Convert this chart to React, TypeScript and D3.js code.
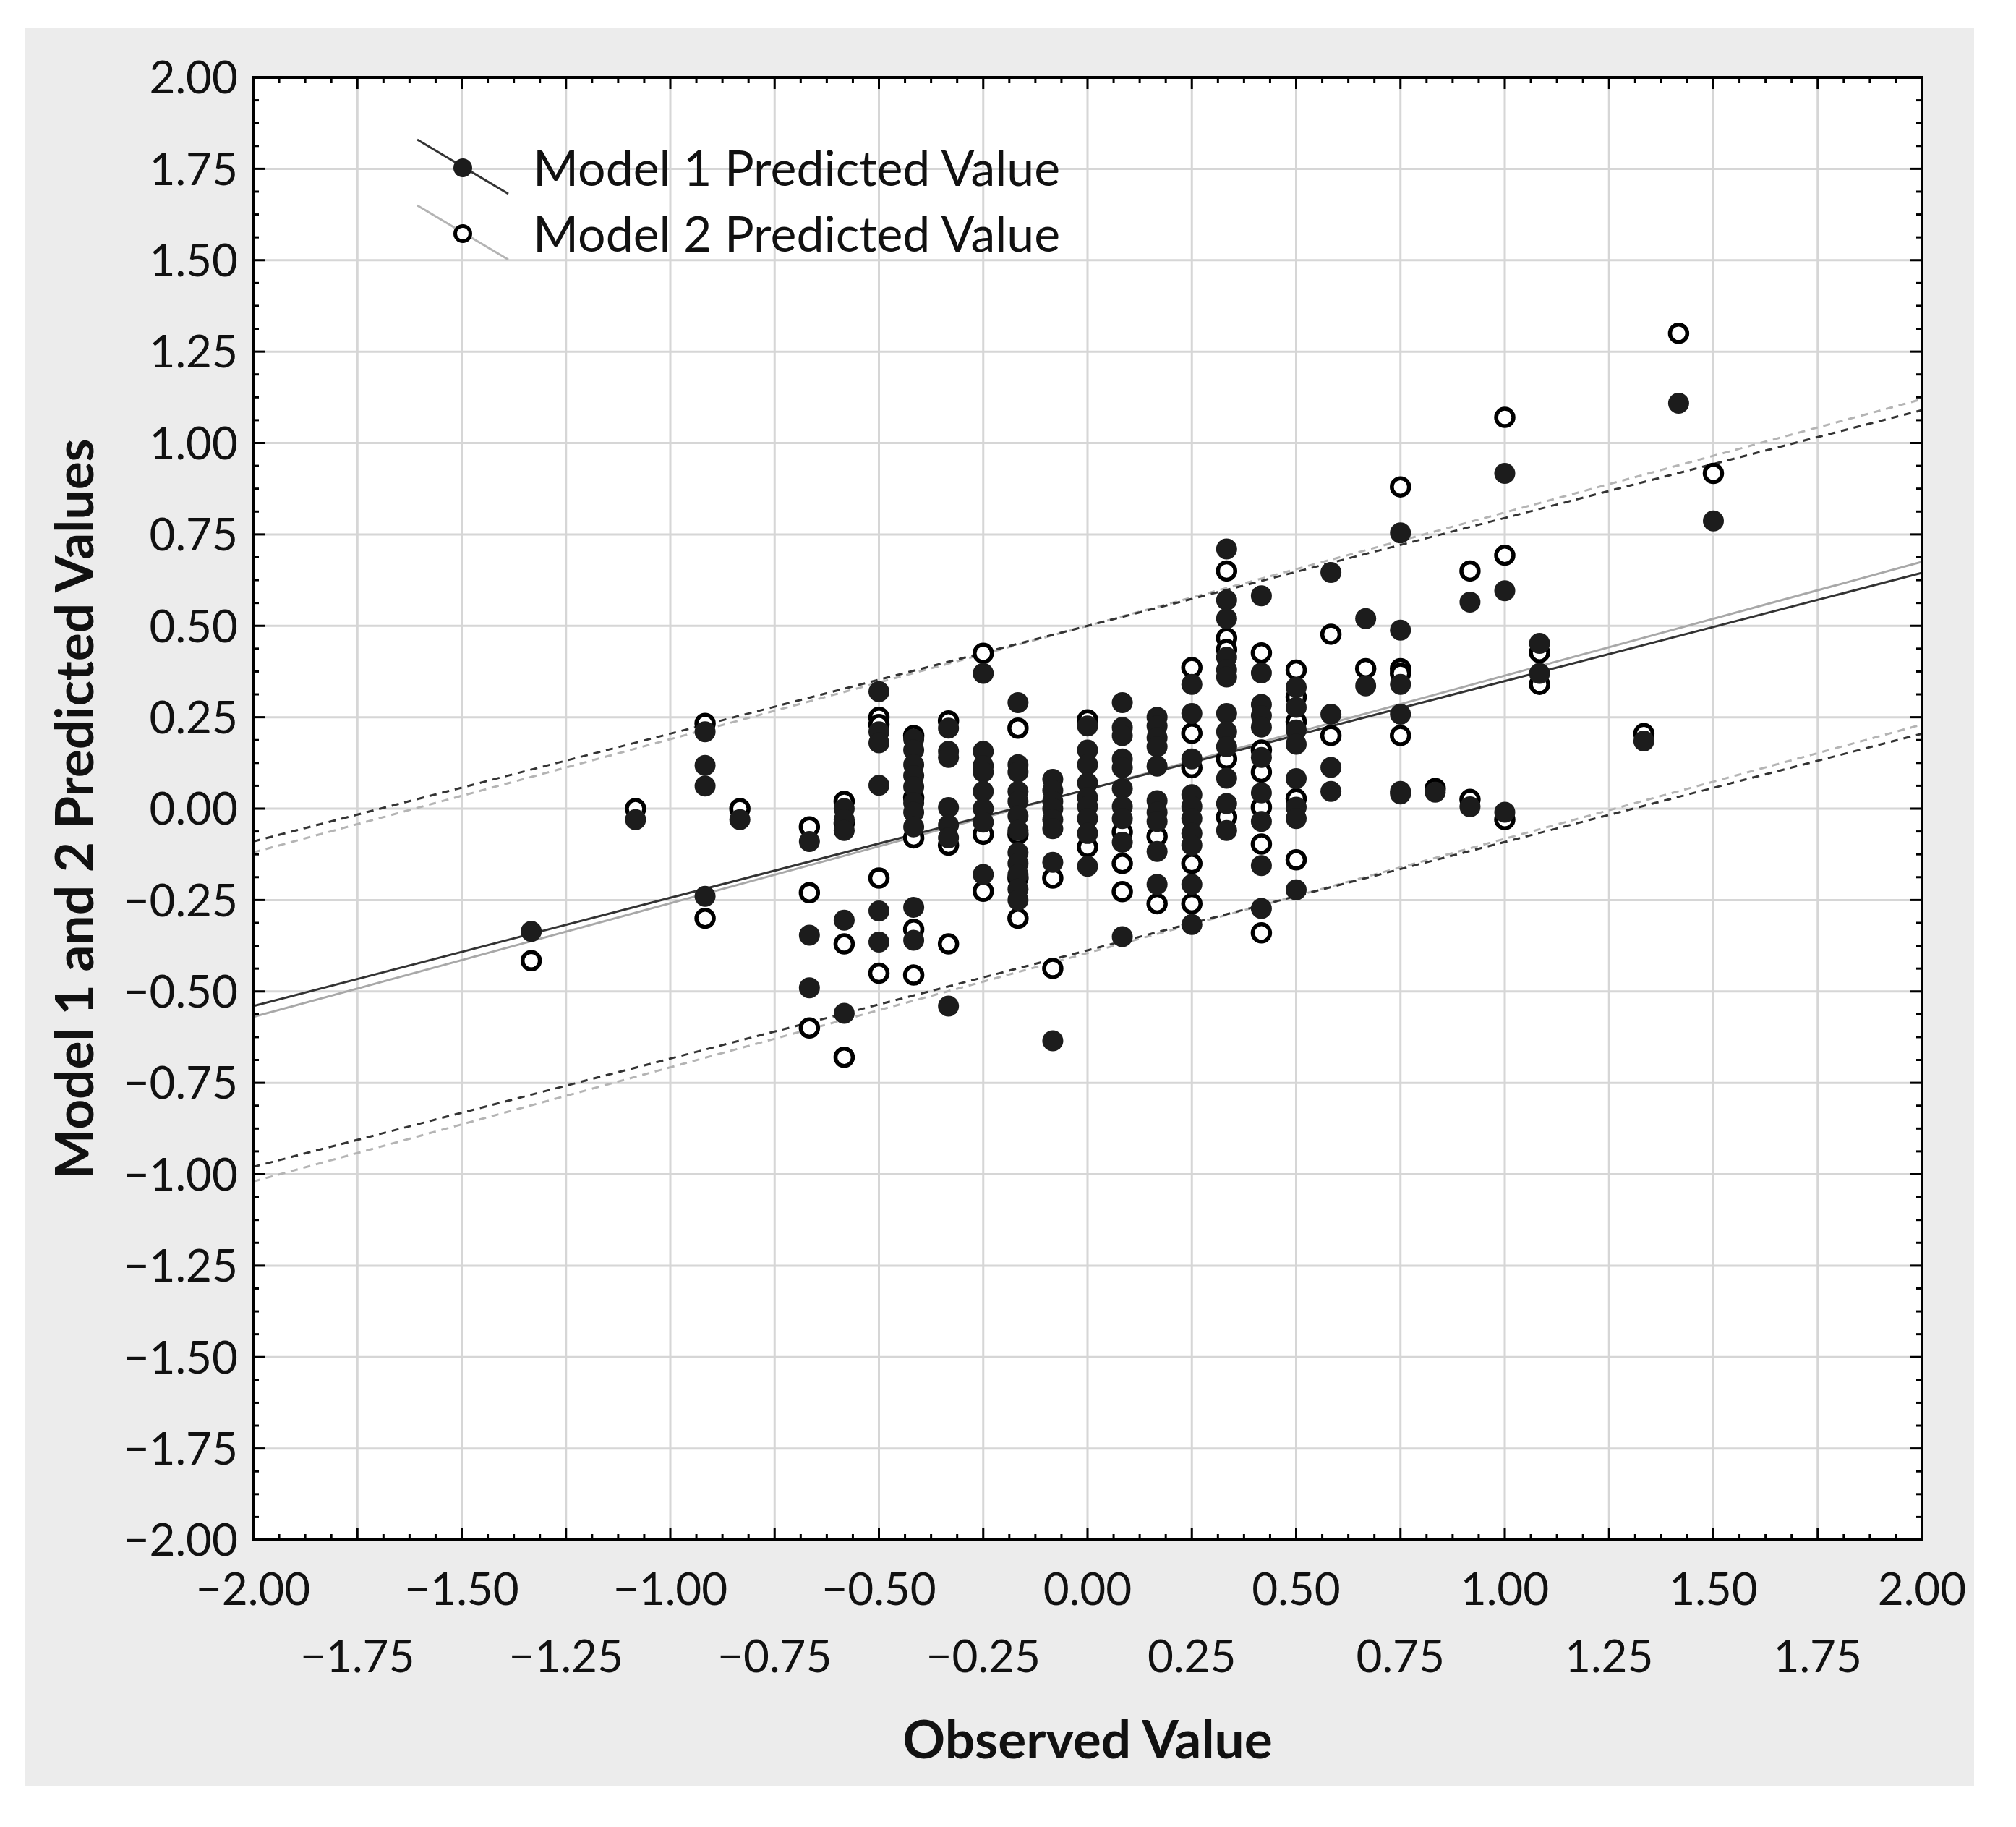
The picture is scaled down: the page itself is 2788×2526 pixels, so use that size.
import React from 'react'
import * as d3 from 'd3'

// observed value levels (steps of 1/12) and predictions read per level
const observedLevels = [
  -16 / 12, -13 / 12, -11 / 12, -10 / 12, -8 / 12, -7 / 12, -6 / 12, -5 / 12, -4 / 12, -3 / 12,
  -2 / 12, -1 / 12, 0, 1 / 12, 2 / 12, 3 / 12, 4 / 12, 5 / 12, 6 / 12, 7 / 12,
  8 / 12, 9 / 12, 10 / 12, 11 / 12, 1, 13 / 12, 16 / 12, 17 / 12, 18 / 12,
]

const model1Values: number[][] = [
  [-0.336],
  [-0.03],
  [0.21, 0.118, 0.062, -0.24],
  [-0.03],
  [-0.09, -0.346, -0.49],
  [0.0, -0.03, -0.06, -0.305, -0.56],
  [0.32, 0.21, 0.18, 0.064, -0.28, -0.365],
  [0.19, 0.16, 0.12, 0.09, 0.06, 0.016, -0.01, -0.05, -0.27, -0.36],
  [0.22, 0.157, 0.14, 0.003, -0.045, -0.08, -0.54],
  [0.37, 0.157, 0.117, 0.1, 0.047, 0.0, -0.037, -0.18],
  [0.29, 0.12, 0.1, 0.047, 0.02, -0.02, -0.06, -0.12, -0.15, -0.18, -0.22, -0.25],
  [0.08, 0.05, 0.02, 0.0, -0.03, -0.055, -0.147, -0.635],
  [0.226, 0.16, 0.12, 0.07, 0.03, 0.006, -0.027, -0.068, -0.158],
  [0.29, 0.222, 0.2, 0.136, 0.112, 0.055, 0.006, -0.027, -0.092, -0.35],
  [0.25, 0.226, 0.194, 0.169, 0.116, 0.022, -0.01, -0.035, -0.117, -0.207],
  [0.34, 0.26, 0.136, 0.038, 0.006, -0.027, -0.068, -0.1, -0.207, -0.317],
  [0.71, 0.57, 0.52, 0.414, 0.38, 0.36, 0.26, 0.21, 0.169, 0.083, 0.014, -0.06],
  [0.582, 0.371, 0.285, 0.254, 0.223, 0.14, 0.043, -0.035, -0.156, -0.273],
  [0.332, 0.277, 0.215, 0.176, 0.082, 0.004, -0.027, -0.222],
  [0.646, 0.258, 0.113, 0.047],
  [0.52, 0.336],
  [0.754, 0.488, 0.34, 0.258, 0.047, 0.04],
  [0.045],
  [0.565, 0.005],
  [0.917, 0.596, -0.01],
  [0.452, 0.37],
  [0.185],
  [1.109],
  [0.787],
]

const model2Values: number[][] = [
  [-0.416],
  [0.0],
  [0.233, -0.3],
  [0.0],
  [-0.05, -0.23, -0.6],
  [0.02, -0.04, -0.37, -0.68],
  [0.25, 0.23, -0.19, -0.45],
  [0.2, 0.03, -0.08, -0.33, -0.455],
  [0.24, -0.1, -0.37],
  [0.425, -0.07, -0.226],
  [0.22, -0.07, -0.19, -0.3],
  [-0.19, -0.437],
  [0.243, -0.105],
  [-0.064, -0.15, -0.227],
  [-0.076, -0.26],
  [0.386, 0.206, 0.112, -0.15, -0.26],
  [0.65, 0.467, 0.435, 0.136, -0.023],
  [0.426, 0.16, 0.1, 0.004, -0.097, -0.34],
  [0.379, 0.305, 0.238, 0.027, -0.14],
  [0.477, 0.2],
  [0.383],
  [0.88, 0.383, 0.37, 0.2],
  [0.055],
  [0.65, 0.025],
  [1.07, 0.693, -0.03],
  [0.427, 0.34],
  [0.205],
  [1.3],
  [0.917],
]

// fitted lines and bands, y at x = -2 and x = 2
const fitLines = [
  { id: 'm2-upper', y0: -0.12, y1: 1.12, color: '#b4b4b4', dashed: true },
  { id: 'm1-upper', y0: -0.09, y1: 1.09, color: '#333333', dashed: true },
  { id: 'm2-lower', y0: -1.02, y1: 0.23, color: '#b4b4b4', dashed: true },
  { id: 'm1-lower', y0: -0.98, y1: 0.205, color: '#333333', dashed: true },
  { id: 'm2-fit', y0: -0.57, y1: 0.675, color: '#a8a8a8', dashed: false },
  { id: 'm1-fit', y0: -0.54, y1: 0.645, color: '#333333', dashed: false },
]

const yTickValues = [2, 1.75, 1.5, 1.25, 1, 0.75, 0.5, 0.25, 0, -0.25, -0.5, -0.75, -1, -1.25, -1.5, -1.75, -2]
const xTickRow1 = [-2, -1.5, -1, -0.5, 0, 0.5, 1, 1.5, 2]
const xTickRow2 = [-1.75, -1.25, -0.75, -0.25, 0.25, 0.75, 1.25, 1.75]

const legendItems = ['Model 1 Predicted Value', 'Model 2 Predicted Value']

const W = 2788
const H = 2526
const FONT = 'Lato, "Open Sans", sans-serif'

export default function App() {
  const x = d3.scaleLinear().domain([-2, 2]).range([350, 2658])
  const y = d3.scaleLinear().domain([-2, 2]).range([2129, 107])
  const [x0, x1] = x.range()
  const [y0, y1] = y.range()

  const gridX = d3.range(-2, 2.001, 0.25)
  const minor = d3.range(-2, 2.001, 0.0625)
  const fmt = d3.format('.2f')

  const m1 = observedLevels.flatMap((o, i) => model1Values[i].map((v) => [o, v]))
  const m2 = observedLevels.flatMap((o, i) => model2Values[i].map((v) => [o, v]))

  const line = d3
    .line<[number, number]>()
    .x((d) => x(d[0]))
    .y((d) => y(d[1]))

  return (
    <svg width={W} height={H} style={{ position: 'absolute', left: 0, top: 0 }} fontFamily={FONT}>
      <rect x={0} y={0} width={W} height={H} fill="#fff" />
      <rect x={34} y={39} width={2696} height={2430} fill="#ececec" />
      <rect x={x0} y={y1} width={x1 - x0} height={y0 - y1} fill="#fff" />

      {/* grid */}
      {gridX.map((v) => (
        <line key={'gx' + v} x1={x(v)} x2={x(v)} y1={y1} y2={y0} stroke="#d6d6d6" strokeWidth={3} />
      ))}
      {gridX.map((v) => (
        <line key={'gy' + v} x1={x0} x2={x1} y1={y(v)} y2={y(v)} stroke="#d6d6d6" strokeWidth={3} />
      ))}

      {/* fit lines */}
      <defs>
        <clipPath id="plot">
          <rect x={x0} y={y1} width={x1 - x0} height={y0 - y1} />
        </clipPath>
      </defs>
      <g clipPath="url(#plot)">
        {fitLines.map((l) => (
          <path
            key={l.id}
            d={line([[-2, l.y0], [2, l.y1]]) || ''}
            fill="none"
            stroke={l.color}
            strokeWidth={3}
            strokeDasharray={l.dashed ? '10 8' : undefined}
          />
        ))}

        {/* points */}
        {m2.map((d, i) => (
          <circle key={'o' + i} cx={x(d[0])} cy={y(d[1])} r={12} fill="#fff" stroke="#000" strokeWidth={5.5} />
        ))}
        {m1.map((d, i) => (
          <circle key={'f' + i} cx={x(d[0])} cy={y(d[1])} r={14.5} fill="#1c1c1c" />
        ))}
      </g>

      {/* ticks, inward on all sides */}
      {minor.map((v, i) => {
        const len = i % 4 === 0 ? 16 : 8
        return (
          <g key={'t' + i} stroke="#000" strokeWidth={3}>
            <line x1={x(v)} x2={x(v)} y1={y0} y2={y0 - len} />
            <line x1={x(v)} x2={x(v)} y1={y1} y2={y1 + len} />
            <line x1={x0} x2={x0 + len} y1={y(v)} y2={y(v)} />
            <line x1={x1} x2={x1 - len} y1={y(v)} y2={y(v)} />
          </g>
        )
      })}
      <rect x={x0} y={y1} width={x1 - x0} height={y0 - y1} fill="none" stroke="#000" strokeWidth={4} />

      {/* tick labels */}
      {yTickValues.map((v) => (
        <text key={'yl' + v} x={329} y={y(v)} dy="0.36em" textAnchor="end" fontSize={62} fill="#111">
          {fmt(v)}
        </text>
      ))}
      {xTickRow1.map((v) => (
        <text key={'xa' + v} x={x(v)} y={2197} dy="0.36em" textAnchor="middle" fontSize={62} fill="#111">
          {fmt(v)}
        </text>
      ))}
      {xTickRow2.map((v) => (
        <text key={'xb' + v} x={x(v)} y={2290} dy="0.36em" textAnchor="middle" fontSize={62} fill="#111">
          {fmt(v)}
        </text>
      ))}

      {/* axis titles */}
      <text x={(x0 + x1) / 2} y={2405} dy="0.36em" textAnchor="middle" fontSize={73} fontWeight="bold" fill="#111">
        Observed Value
      </text>
      <text
        transform={`translate(103, ${(y0 + y1) / 2}) rotate(-90)`}
        dy="0.36em"
        textAnchor="middle"
        fontSize={73}
        fontWeight="bold"
        fill="#111"
      >
        Model 1 and 2 Predicted Values
      </text>

      {/* legend */}
      <g>
        <line x1={577} y1={193} x2={703} y2={268} stroke="#333" strokeWidth={3} />
        <circle cx={640} cy={232} r={13} fill="#1c1c1c" />
        <line x1={577} y1={284} x2={703} y2={359} stroke="#b4b4b4" strokeWidth={3} />
        <circle cx={640} cy={323} r={10.5} fill="#fff" stroke="#000" strokeWidth={5} />
        {legendItems.map((t, i) => (
          <text key={t} x={737} y={233 + i * 91} dy="0.36em" fontSize={68} fill="#111">
            {t}
          </text>
        ))}
      </g>
    </svg>
  )
}
